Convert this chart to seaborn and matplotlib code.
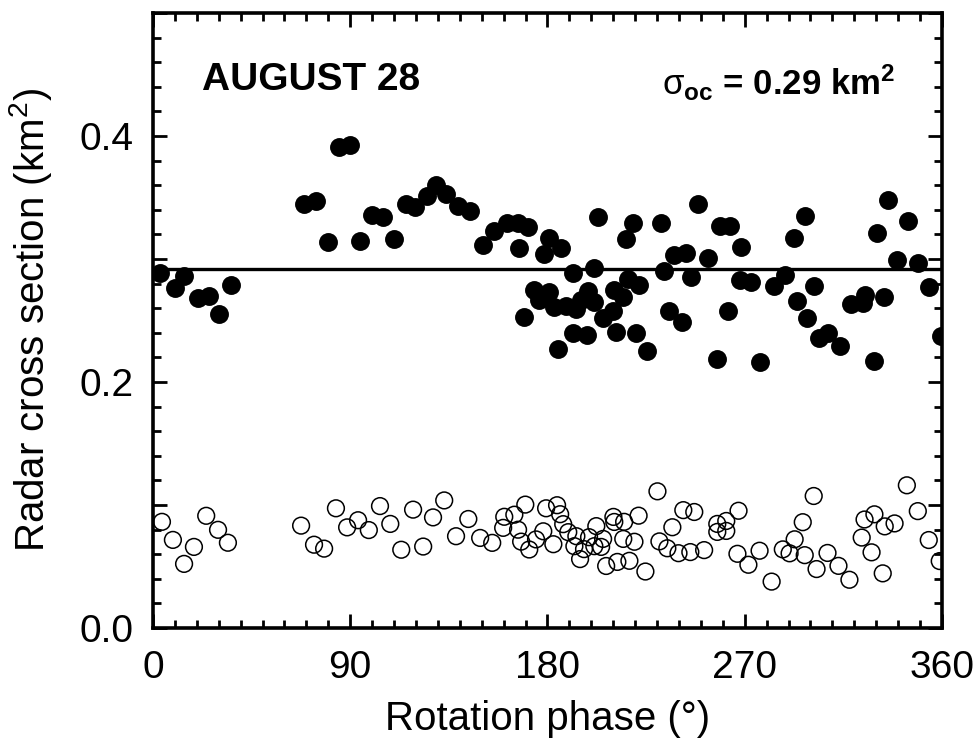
import numpy as np
import pandas as pd
import matplotlib
matplotlib.use("Agg")
import matplotlib.pyplot as plt
from matplotlib.ticker import MultipleLocator, FuncFormatter
import seaborn as sns

# ---------------- data ----------------
sc_phase = [3.0, 10.0, 14.2, 20.6, 25.5, 30.1, 35.6, 69.0, 74.4, 79.9, 84.9, 90.0,
            94.5, 100.0, 105.0, 110.0, 115.5, 119.6, 125.1, 129.2, 133.8, 139.2, 144.7,
            150.6, 155.7, 161.6, 166.6, 167.0, 169.4, 171.2, 174.0, 176.2, 178.5, 180.8,
            180.8, 183.1, 185.0, 186.3, 188.5, 191.8, 191.8, 193.2, 195.4, 198.2, 198.6,
            201.4, 201.4, 203.2, 205.5, 210.1, 210.5, 211.4, 214.5, 215.9, 216.9, 219.2,
            220.6, 222.0, 225.6, 231.6, 233.0, 235.6, 237.9, 241.5, 243.3, 245.6, 248.5,
            253.4, 257.6, 258.9, 262.6, 263.4, 267.7, 268.1, 273.1, 277.2, 283.6, 288.6,
            292.3, 293.7, 297.4, 298.6, 301.8, 303.7, 308.2, 313.3, 318.7, 324.2, 324.7,
            329.2, 330.2, 333.8, 335.2, 339.7, 344.7, 349.3, 354.3, 359.6]
sc_sigma = [0.289, 0.276, 0.286, 0.268, 0.270, 0.255, 0.279, 0.345, 0.347, 0.314, 0.391, 0.393,
            0.315, 0.336, 0.334, 0.316, 0.345, 0.342, 0.351, 0.360, 0.353, 0.343, 0.339,
            0.311, 0.323, 0.329, 0.329, 0.309, 0.253, 0.326, 0.275, 0.267, 0.304, 0.317,
            0.273, 0.261, 0.227, 0.309, 0.262, 0.289, 0.240, 0.259, 0.267, 0.238, 0.274,
            0.293, 0.265, 0.334, 0.252, 0.258, 0.275, 0.241, 0.269, 0.316, 0.284, 0.329,
            0.240, 0.279, 0.225, 0.329, 0.290, 0.258, 0.303, 0.249, 0.305, 0.285, 0.345,
            0.301, 0.219, 0.327, 0.258, 0.327, 0.283, 0.310, 0.281, 0.216, 0.278, 0.287,
            0.317, 0.266, 0.335, 0.252, 0.278, 0.236, 0.240, 0.229, 0.263, 0.264, 0.271,
            0.217, 0.321, 0.269, 0.348, 0.299, 0.331, 0.297, 0.277, 0.237]

oc_phase = [4.1, 9.1, 14.2, 18.7, 24.3, 29.7, 34.2, 67.6, 73.5, 78.1, 83.5, 88.6, 93.6,
            98.5, 103.6, 108.3, 113.3, 118.7, 123.3, 127.8, 132.9, 138.3, 143.9, 149.3,
            154.8, 160.3, 159.8, 164.9, 166.6, 169.9, 168.0, 171.7, 174.8, 178.1, 179.4,
            182.7, 184.4, 185.8, 187.2, 189.5, 192.3, 194.9, 196.7, 193.2, 199.0, 202.3,
            201.4, 205.4, 204.5, 206.8, 210.1, 210.5, 211.9, 215.0, 214.6, 217.4, 219.7,
            221.6, 224.7, 230.2, 231.1, 234.7, 237.0, 239.8, 242.0, 245.2, 247.0, 251.5,
            257.5, 257.5, 261.6, 261.6, 267.2, 266.7, 271.7, 276.8, 282.3, 287.4, 290.5,
            292.8, 296.5, 297.4, 301.5, 302.8, 307.8, 312.8, 317.8, 323.4, 324.7, 329.2,
            327.9, 333.0, 333.9, 338.4, 344.0, 349.0, 354.0, 359.0]
oc_sigma = [0.0863, 0.0716, 0.0521, 0.0659, 0.0912, 0.0798, 0.0693, 0.0832, 0.0677, 0.0645,
            0.0973, 0.0818, 0.0876, 0.0796, 0.0991, 0.0846, 0.0636, 0.0962, 0.0662, 0.0899,
            0.1037, 0.0746, 0.0886, 0.0732, 0.0692, 0.0904, 0.0814, 0.0921, 0.0799, 0.1003,
            0.0702, 0.0638, 0.0720, 0.0786, 0.0973, 0.0681, 0.0998, 0.0925, 0.0844, 0.0779,
            0.0665, 0.0560, 0.0641, 0.0746, 0.0738, 0.0828, 0.0665, 0.0724, 0.0659, 0.0504,
            0.0903, 0.0862, 0.0537, 0.0863, 0.0724, 0.0546, 0.0701, 0.0913, 0.0459, 0.1111,
            0.0704, 0.0648, 0.0819, 0.0608, 0.0958, 0.0617, 0.0943, 0.0633, 0.0846, 0.0781,
            0.0870, 0.0789, 0.0953, 0.0603, 0.0514, 0.0628, 0.0377, 0.0639, 0.0607, 0.0721,
            0.0860, 0.0592, 0.1073, 0.0479, 0.0610, 0.0505, 0.0392, 0.0735, 0.0882, 0.0924,
            0.0615, 0.0444, 0.0826, 0.0850, 0.1160, 0.0950, 0.0715, 0.0544]

mean_sc = 0.292          # level of the horizontal line
x_ticks = [0, 90, 180, 270, 360]
y_labels = [0.0, 0.2, 0.4]
title_text = "AUGUST 28"
sigma_text = r"$\mathrm{\sigma}_{\mathbf{oc}}$ = 0.29 km$^{\mathbf{2}}$"

# ---------------- style ----------------
sns.set_theme(style="ticks")
plt.rcParams["font.family"] = ["Liberation Sans", "DejaVu Sans"]
plt.rcParams["mathtext.fontset"] = "custom"
plt.rcParams["mathtext.rm"] = "Liberation Sans"
plt.rcParams["mathtext.bf"] = "Liberation Sans:bold"
plt.rcParams["mathtext.it"] = "Liberation Sans:italic"
for key in ["text.color", "axes.labelcolor", "xtick.color", "ytick.color", "axes.edgecolor"]:
    plt.rcParams[key] = "black"

fig = plt.figure(figsize=(9.78, 7.5), dpi=100)
ax = fig.add_axes([0.1564, 0.1627, 0.8067, 0.8200])

df_sc = pd.DataFrame({"phase": sc_phase, "sigma": sc_sigma})
df_oc = pd.DataFrame({"phase": oc_phase, "sigma": oc_sigma})

sns.scatterplot(data=df_oc, x="phase", y="sigma", ax=ax, marker="o", s=145,
                facecolor="none", edgecolor="black", linewidth=1.1, zorder=3)
sns.scatterplot(data=df_sc, x="phase", y="sigma", ax=ax, marker="o", s=185,
                color="black", edgecolor="black", linewidth=0, zorder=4)
ax.axhline(mean_sc, color="black", lw=2.4, zorder=5)

ax.set_xlim(0, 360)
ax.set_ylim(0, 0.5)
ax.set_xticks(x_ticks)
ax.xaxis.set_minor_locator(MultipleLocator(10))
ax.yaxis.set_major_locator(MultipleLocator(0.1))
ax.yaxis.set_minor_locator(MultipleLocator(0.02))


def yfmt(v, pos):
    for lab in y_labels:
        if abs(v - lab) < 1e-6:
            return f"{lab:.1f}"
    return ""


ax.yaxis.set_major_formatter(FuncFormatter(yfmt))
ax.xaxis.set_major_formatter(FuncFormatter(lambda v, p: f"{int(round(v))}"))

for side in ["top", "bottom", "left", "right"]:
    ax.spines[side].set_visible(True)
    ax.spines[side].set_linewidth(2.6)
    ax.spines[side].set_color("black")

ax.tick_params(which="both", direction="in", top=True, right=True,
               color="black", width=2.0)
ax.tick_params(which="major", length=10, labelsize=28)
ax.tick_params(axis="x", which="major", pad=16)
ax.tick_params(axis="y", which="major", pad=14)
ax.tick_params(which="minor", length=6)

ax.set_xlabel("Rotation phase (°)", fontsize=29, labelpad=10)
ax.set_ylabel("Radar cross section (km$^{\\mathregular{2}}$)", fontsize=29, labelpad=18)

ax.text(0.062, 0.875, title_text, transform=ax.transAxes, fontsize=28,
        fontweight="bold", ha="left", va="baseline")
ax.text(0.94, 0.867, sigma_text, transform=ax.transAxes, fontsize=25,
        fontweight="bold", ha="right", va="baseline")

fig.savefig("out.png", dpi=100)
